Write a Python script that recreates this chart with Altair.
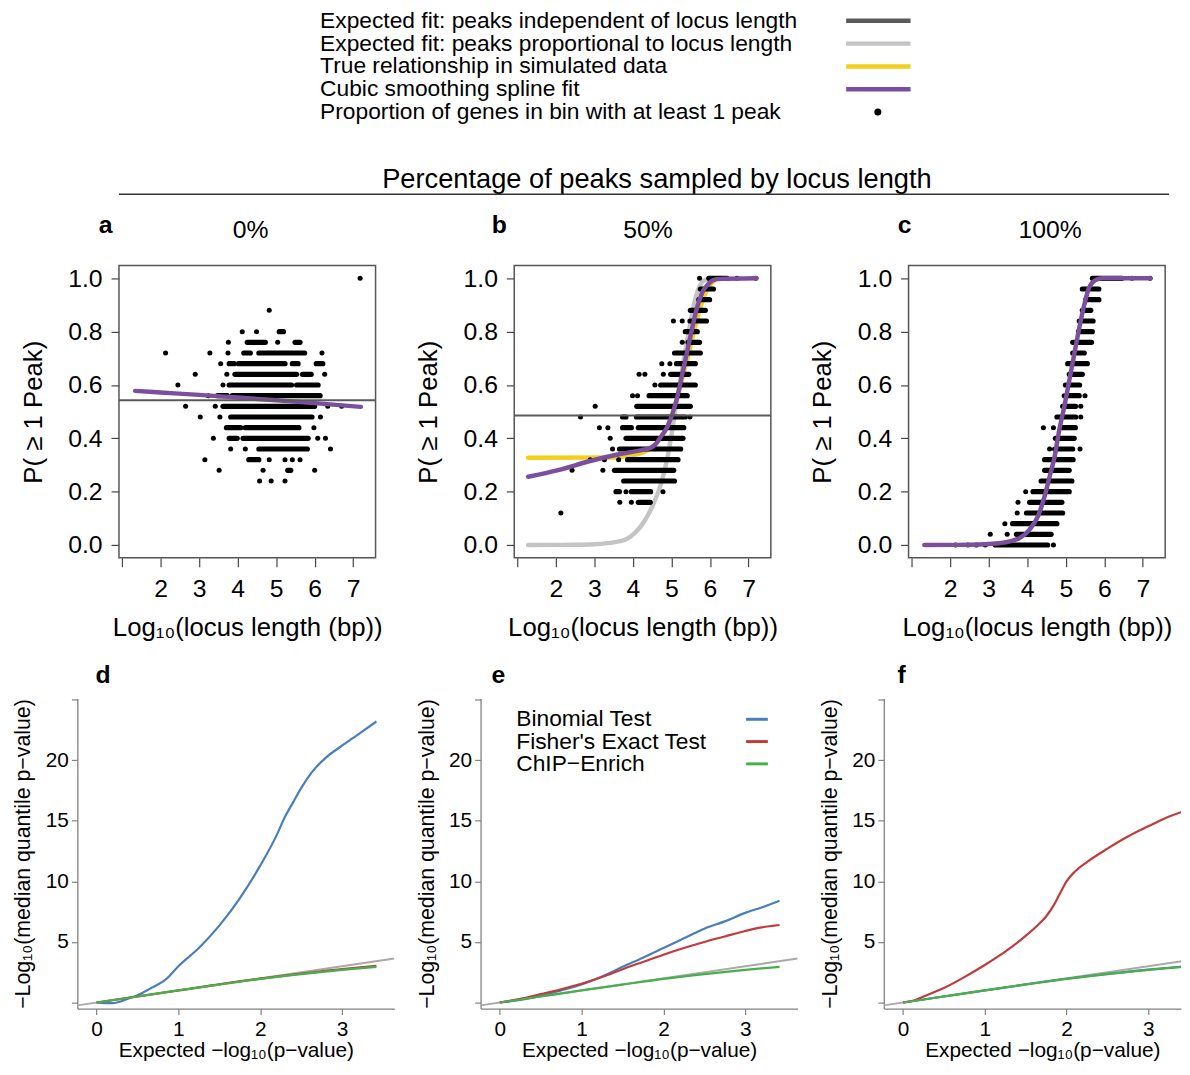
import altair as alt
import pandas as pd

FONT = "Liberation Sans"

# ---------------- legend (top) ----------------
LEGEND_LABELS = [
    "Expected fit: peaks independent of locus length",
    "Expected fit: peaks proportional to locus length",
    "True relationship in simulated data",
    "Cubic smoothing spline fit",
    "Proportion of genes in bin with at least 1 peak",
]
C_DARK = "#5a5a5a"
C_LIGHT = "#c4c4c4"
C_YELLOW = "#f2cf1d"
C_PURPLE = "#7b4f9d"
LEGEND_COLORS = [C_DARK, C_LIGHT, C_YELLOW, C_PURPLE]

# ---------------- panel a/b/c: binned proportions ----------------
# each row: (proportion, [single x | (x_start, x_end) dense run of dots])
A_ROWS = [
    (1.00, [7.18]),
    (0.88, [4.82]),
    (0.80, [4.12, 4.49, (5.08, 5.19)]),
    (0.76, [3.76, (4.25, 4.72), 5.04, (5.49, 5.62)]),
    (0.72, [2.13, 3.28, 3.75, (4.16, 4.33), (4.55, 5.74), 6.19]),
    (0.68, [3.56, (3.78, 3.91), (4.02, 5.23), (5.42, 5.57), (6.04, 6.21)]),
    (0.64, [2.90, 3.72, (3.93, 5.53), (5.68, 5.91), 6.26]),
    (0.60, [2.45, 3.62, (3.78, 5.40), (5.53, 6.09)]),
    (0.56, [3.24, (3.48, 3.73), (3.86, 6.14)]),
    (0.52, [2.65, 3.42, (3.62, 6.00), 6.34, 6.70]),
    (0.48, [3.03, 3.54, (3.82, 5.93), 6.15]),
    (0.44, [(3.71, 4.08), (4.20, 5.59), 5.98]),
    (0.40, [3.37, (3.78, 3.99), (4.14, 5.83), 6.08, 6.28]),
    (0.36, [3.82, 4.20, (4.55, 5.81), 6.41]),
    (0.32, [3.15, (4.29, 4.55), 4.82, 5.23, 5.42, 5.62]),
    (0.28, [3.52, 4.66, (5.30, 5.38), 6.00]),
    (0.24, [4.57, 4.87, 5.23]),
]
B_ROWS = [
    (1.00, [5.73, (5.97, 6.44), 6.70, 7.19]),
    (0.96, [(5.75, 6.09)]),
    (0.92, [(5.71, 5.99)]),
    (0.88, [(5.49, 5.88)]),
    (0.84, [5.05, 5.28, (5.48, 5.91)]),
    (0.80, [(5.36, 5.67)]),
    (0.76, [5.28, (5.43, 5.73)]),
    (0.72, [(5.08, 5.75)]),
    (0.68, [4.75, 4.96, (5.13, 5.62)]),
    (0.64, [4.16, 4.31, 4.79, (4.98, 5.45)]),
    (0.60, [4.57, (4.72, 5.62)]),
    (0.56, [3.99, 4.12, (4.42, 5.41)]),
    (0.52, [3.02, (4.10, 5.49)]),
    (0.48, [2.64, (3.73, 3.82), (4.09, 5.36), 5.48]),
    (0.44, [3.13, 3.35, (3.73, 3.96), (4.14, 5.32)]),
    (0.40, [3.41, (3.82, 5.30)]),
    (0.36, [3.47, (3.65, 5.24)]),
    (0.32, [2.89, 3.26, 3.63, (3.86, 5.17)]),
    (0.28, [2.42, 3.22, (3.52, 5.06)]),
    (0.24, [(3.76, 5.08)]),
    (0.20, [(3.56, 3.65), 3.82, (3.96, 4.46), 4.78]),
    (0.16, [3.66, 3.96, (4.14, 4.45)]),
    (0.12, [2.13]),
]
C_ROWS = [
    (1.00, [(5.69, 6.46), 6.72, 7.19]),
    (0.96, [(5.43, 5.86)]),
    (0.92, [(5.52, 5.86)]),
    (0.88, [(5.43, 5.65)]),
    (0.84, [(5.35, 5.71)]),
    (0.80, [(5.33, 5.69)]),
    (0.76, [(5.18, 5.67)]),
    (0.72, [(5.18, 5.48)]),
    (0.68, [(5.05, 5.56)]),
    (0.64, [(5.09, 5.43)]),
    (0.60, [(4.99, 5.36)]),
    (0.56, [4.96, (5.05, 5.35), 5.50]),
    (0.52, [(4.92, 5.26), 5.39]),
    (0.48, [(4.77, 5.26), 5.39]),
    (0.44, [4.42, 4.68, (4.90, 5.25)]),
    (0.40, [(4.73, 5.22)]),
    (0.36, [4.58, (4.71, 5.18), 5.37]),
    (0.32, [(4.45, 5.19)]),
    (0.28, [(4.45, 5.09)]),
    (0.24, [(4.36, 5.16)]),
    (0.20, [3.96, (4.15, 5.09)]),
    (0.16, [3.76, (4.06, 4.90)]),
    (0.12, [3.74, (3.98, 4.92)]),
    (0.08, [3.42, (3.62, 4.77)]),
    (0.04, [3.04, 3.48, (3.72, 4.62)]),
    (0.00, [2.14, 2.46, 2.68, 2.91, (3.17, 4.53), 4.68]),
]

# fitted / expected curves
A_PURPLE_X = [1.34, 2.0, 3.0, 4.0, 5.0, 6.0, 7.2]
A_PURPLE_Y = [0.578, 0.572, 0.563, 0.553, 0.543, 0.532, 0.518]
A_HLINE = 0.543

B_PURPLE_X = [1.28, 2.06, 2.92, 3.77, 4.2, 4.46, 4.6, 4.72, 4.89, 5.02, 5.15, 5.28,
              5.41, 5.54, 5.66, 5.79, 5.97, 6.18, 7.21]
B_PURPLE_Y = [0.256, 0.281, 0.316, 0.344, 0.355, 0.365, 0.38, 0.405, 0.442, 0.49, 0.554,
              0.64, 0.727, 0.814, 0.888, 0.944, 0.981, 0.997, 1.0]
B_GREY_X = [1.28, 2.5, 3.0, 3.5, 3.8, 4.05, 4.3, 4.55, 4.75, 4.9, 5.03, 5.15, 5.3, 5.45,
            5.58, 5.71, 5.88, 6.1]
B_GREY_Y = [0.0, 0.001, 0.003, 0.01, 0.02, 0.045, 0.09, 0.16, 0.24, 0.33, 0.44, 0.55,
            0.68, 0.80, 0.90, 0.963, 0.994, 1.0]
B_YELLOW_X = [1.28, 3.5, 3.9, 4.3, 4.6, 4.8, 5.0, 5.15, 5.3, 5.45, 5.6, 5.75, 5.9, 6.05, 6.25]
B_YELLOW_Y = [0.327, 0.328, 0.335, 0.35, 0.38, 0.42, 0.48, 0.55, 0.635, 0.72, 0.81, 0.89,
              0.95, 0.985, 1.0]
B_HLINE = 0.486

C_PURPLE_X = [1.33, 2.5, 3.0, 3.38, 3.81, 4.06, 4.28, 4.45, 4.58, 4.71, 4.83, 4.96, 5.09,
              5.22, 5.35, 5.48, 5.6, 5.78, 5.95, 7.19]
C_PURPLE_Y = [0.0, 0.001, 0.004, 0.009, 0.027, 0.058, 0.108, 0.182, 0.256, 0.331, 0.43,
              0.517, 0.616, 0.715, 0.814, 0.90, 0.963, 0.994, 1.0, 1.0]

# ---------------- panel d/e/f: QQ curves ----------------
QQ_LABELS = ["Binomial Test", "Fisher's Exact Test", "ChIP\u2212Enrich"]
C_BLUE = "#4a7ebb"
C_RED = "#c23b3b"
C_GREEN = "#47b04b"
C_DIAG = "#a9a9a9"
QQ_COLORS = [C_BLUE, C_RED, C_GREEN]

DIAG_X = [-0.235, 3.64]
GREEN_X = [0, 0.25, 0.5, 1.0, 1.5, 2.0, 2.5, 3.0, 3.42]
GREEN_Y = [0, 0.25, 0.5, 1.0, 1.48, 1.95, 2.35, 2.7, 2.95]

D_BLUE_X = [0, 0.1, 0.2, 0.3, 0.4, 0.5, 0.65, 0.85, 1.0, 1.25, 1.5, 1.74, 2.0, 2.2, 2.3,
            2.4, 2.5, 2.63, 2.8, 3.0, 3.19, 3.42]
D_BLUE_Y = [0, -0.05, -0.05, 0.1, 0.35, 0.6, 1.13, 1.93, 3.0, 4.5, 6.35, 8.5, 11.3, 13.8,
            15.3, 16.5, 17.7, 19.0, 20.2, 21.2, 22.1, 23.2]
D_RED_X = [0, 1.0, 2.0, 2.5, 3.0, 3.42]
D_RED_Y = [0, 1.0, 1.97, 2.38, 2.76, 3.02]

E_X = [0, 0.25, 0.5, 0.75, 1.0, 1.25, 1.5, 1.75, 2.0, 2.25, 2.5, 2.75, 3.0, 3.2, 3.42]
E_BLUE_Y = [0, 0.22, 0.55, 1.0, 1.5, 2.15, 2.95, 3.7, 4.5, 5.3, 6.1, 6.7, 7.4, 7.85, 8.4]
E_RED_Y = [0, 0.3, 0.7, 1.1, 1.55, 2.1, 2.75, 3.35, 3.95, 4.5, 5.0, 5.45, 5.9, 6.2, 6.4]

F_RED_X = [0, 0.1, 0.25, 0.5, 0.75, 1.0, 1.25, 1.5, 1.65, 1.75, 1.85, 1.95, 2.0, 2.1,
           2.25, 2.5, 2.75, 3.0, 3.2, 3.42]
F_RED_Y = [0, 0.1, 0.5, 1.2, 2.1, 3.1, 4.2, 5.5, 6.4, 7.1, 8.1, 9.4, 10.0, 10.8, 11.6,
           12.7, 13.7, 14.55, 15.2, 15.75]
F_BLUE_X = [0, 1.0, 2.0, 2.5, 3.0, 3.42]
F_BLUE_Y = [0, 1.0, 1.96, 2.36, 2.72, 2.97]

# ---------------- helpers ----------------
ONE = pd.DataFrame({"k": [0]})


def split_rows(rows):
    pts, runs = [], []
    for yv, items in rows:
        for it in items:
            if isinstance(it, tuple):
                runs.append({"x": it[0], "x2": it[1], "y": yv})
            else:
                pts.append({"x": it, "y": yv})
    return pd.DataFrame(pts), pd.DataFrame(runs)


def xy(xs, ys):
    return pd.DataFrame({"x": xs, "y": ys})


def label(text, x, y, size, weight="normal", align="left", baseline="middle"):
    return alt.Chart(ONE).mark_text(
        text=text, fontSize=size, fontWeight=weight, align=align,
        baseline=baseline, color="black", font=FONT
    ).encode(x=alt.value(x), y=alt.value(y))


def seg(x1, x2, y, color, width):
    return alt.Chart(ONE).mark_rule(color=color, strokeWidth=width).encode(
        x=alt.value(x1), x2=alt.value(x2), y=alt.value(y))


# ---------------- layout (grid of 3 columns, cells share column widths) ----------------
COL_W = [320, 320, 300]   # cell widths (bottom panels fill their cell)
COL_GAP = 87
ROW_GAP = 142
TOP_H = 295
BOT_H = 313
BOX_W = 259               # width of the boxed top panels
BOX_OFF = [42, 34, 25]    # offset of each top box inside its cell

# ---------------- top panels ----------------
XLIM_T = [0.92, 7.58]
YS_T = alt.Scale(domain=[-0.048, 1.048], nice=False, zero=False)


def top_panel(col, rows, purple, letter, letter_dx, pct, pct_dx, hline=None, grey=None,
              yellow=None, extras=()):
    off = BOX_OFF[col]
    cell_w = COL_W[col]
    ppu = BOX_W / (XLIM_T[1] - XLIM_T[0])
    xs = alt.Scale(domain=[XLIM_T[0] - off / ppu,
                           XLIM_T[1] + (cell_w - off - BOX_W) / ppu],
                   nice=False, zero=False)
    xax = alt.Axis(values=[1, 2, 3, 4, 5, 6, 7],
                   labelExpr="datum.value == 1 ? '' : datum.label",
                   domain=False, grid=False, tickSize=9, tickColor="#444444", tickWidth=1.2,
                   labelFontSize=25, labelPadding=10, labelColor="black", labelFlush=False,
                   labelOverlap=False,
                   title="Log\u2081\u2080(locus length (bp))", titleFontSize=26,
                   titleFontWeight="normal", titleColor="black", titleX=off + BOX_W / 2,
                   titleY=78, titleAlign="center", titleBaseline="alphabetic")
    yax = alt.Axis(values=[0, 0.2, 0.4, 0.6, 0.8, 1.0], format=".1f", offset=-off,
                   domain=False, grid=False, tickSize=8, tickColor="#444444", tickWidth=1.2,
                   labelFontSize=25, labelPadding=9, labelColor="black", labelFlush=False,
                   labelOverlap=False,
                   title="P( \u2265 1 Peak)", titleFontSize=26, titleFontWeight="normal",
                   titleColor="black", titleX=-86.5, titleY=TOP_H / 2, titleAngle=270,
                   titleAlign="center", titleBaseline="middle")

    def X(f):
        return alt.X(f, type="quantitative", scale=xs, axis=xax)

    def Y(f):
        return alt.Y(f, type="quantitative", scale=YS_T, axis=yax)

    def curve(df, color):
        return alt.Chart(df).mark_line(color=color, strokeWidth=4.5, interpolate="monotone",
                                       strokeCap="round").encode(x=X("x"), y=Y("y"))

    pts, runs = split_rows(rows)
    layers = [alt.Chart(ONE).mark_rect(fillOpacity=0, stroke="#555555", strokeWidth=1.5)
              .encode(x=alt.value(off), x2=alt.value(off + BOX_W),
                      y=alt.value(0), y2=alt.value(TOP_H))]
    if grey is not None:
        layers.append(curve(grey, C_LIGHT))
    if yellow is not None:
        layers.append(curve(yellow, C_YELLOW))
    layers.append(alt.Chart(runs).mark_rule(color="black", strokeWidth=5.2, strokeCap="round")
                  .encode(x=X("x"), x2=alt.X2("x2"), y=Y("y")))
    layers.append(alt.Chart(pts).mark_circle(color="black", size=26, opacity=1)
                  .encode(x=X("x"), y=Y("y")))
    layers.append(curve(purple, C_PURPLE))
    if hline is not None:
        hl = pd.DataFrame({"x": [XLIM_T[0]], "x2": [XLIM_T[1]], "y": [hline]})
        layers.append(alt.Chart(hl).mark_rule(color=C_DARK, strokeWidth=2)
                      .encode(x=X("x"), x2=alt.X2("x2"), y=Y("y")))
    layers.append(label(letter, off + letter_dx, -33, 25, weight="bold", align="center",
                        baseline="alphabetic"))
    layers.append(label(pct, off + pct_dx, -28, 25, align="center", baseline="alphabetic"))
    layers.extend(extras(off) if callable(extras) else extras)
    return alt.layer(*layers).properties(width=cell_w, height=TOP_H)


def legend_layers(off):
    out = []
    for i, txt in enumerate(LEGEND_LABELS):
        yrow = -247 + 23 * i
        out.append(label(txt, off - 196, yrow, 23))
        if i < len(LEGEND_COLORS):
            out.append(seg(off + 335, off + 400, yrow, LEGEND_COLORS[i], 4.5))
    out.append(alt.Chart(ONE).mark_circle(color="black", size=50, opacity=1)
               .encode(x=alt.value(off + 367), y=alt.value(-155)))
    out.append(label("Percentage of peaks sampled by locus length", off + 144, -78, 27.5,
                     align="center", baseline="alphabetic"))
    out.append(seg(off - 399, off + 661, -72, "#333333", 1.5))
    return out


pa = top_panel(0, A_ROWS, xy(A_PURPLE_X, A_PURPLE_Y), "a", -13.5, "0%", 133, hline=A_HLINE)
pb = top_panel(1, B_ROWS, xy(B_PURPLE_X, B_PURPLE_Y), "b", -15, "50%", 135, hline=B_HLINE,
               grey=xy(B_GREY_X, B_GREY_Y), yellow=xy(B_YELLOW_X, B_YELLOW_Y),
               extras=legend_layers)
pc = top_panel(2, C_ROWS, xy(C_PURPLE_X, C_PURPLE_Y), "c", -4, "100%", 143)

# ---------------- bottom panels ----------------
YS_B = alt.Scale(domain=[-0.5, 25.1], nice=False, zero=False)


def bottom_panel(col, xmax, series, letter, letter_dx, extras=()):
    width = COL_W[col]
    xs = alt.Scale(domain=[-0.235, xmax], nice=False, zero=False)
    xax = alt.Axis(values=[0, 1, 2, 3], domain=True, domainColor="#808080", domainWidth=1.3,
                   grid=False, tickSize=6, tickColor="#808080", tickWidth=1.2,
                   labelFontSize=21, labelPadding=4, labelColor="black", labelFlush=False,
                   title="Expected \u2212log\u2081\u2080(p\u2212value)", titleFontSize=21,
                   titleFontWeight="normal", titleColor="black", titleX=160, titleY=48,
                   titleAlign="center", titleBaseline="alphabetic")
    yax = alt.Axis(values=[0, 5, 10, 15, 20, 25],
                   labelExpr="(datum.value == 0 || datum.value == 25) ? '' : datum.label",
                   domain=True, domainColor="#808080", domainWidth=1.3, grid=False,
                   tickSize=6, tickColor="#808080", tickWidth=1.2, labelFontSize=21,
                   labelPadding=3, labelColor="black", labelFlush=False, labelOverlap=False,
                   title="\u2212Log\u2081\u2080(median quantile p\u2212value)",
                   titleFontSize=21.5, titleFontWeight="normal", titleColor="black",
                   titleX=-54, titleY=BOT_H / 2, titleAngle=270, titleAlign="center",
                   titleBaseline="middle")
    layers = [alt.Chart(xy(DIAG_X, DIAG_X)).mark_line(color=C_DIAG, strokeWidth=2, clip=True)
              .encode(x=alt.X("x:Q", scale=xs, axis=xax), y=alt.Y("y:Q", scale=YS_B, axis=yax))]
    for df, color in series:
        layers.append(alt.Chart(df).mark_line(color=color, strokeWidth=2.2, clip=True,
                                              interpolate="monotone")
                      .encode(x=alt.X("x:Q", scale=xs, axis=xax),
                              y=alt.Y("y:Q", scale=YS_B, axis=yax)))
    layers.append(label(letter, letter_dx, -16, 25, weight="bold", align="center",
                        baseline="alphabetic"))
    layers.extend(extras)
    return alt.layer(*layers).properties(width=width, height=BOT_H)


qq_legend = []
for i, (txt, col) in enumerate(zip(QQ_LABELS, QQ_COLORS)):
    yrow = 21 + 22.5 * i
    qq_legend.append(label(txt, 36, yrow, 23))
    qq_legend.append(seg(268, 290, yrow, col, 3))

green = xy(GREEN_X, GREEN_Y)
pd_ = bottom_panel(0, 3.64, [(xy(D_BLUE_X, D_BLUE_Y), C_BLUE), (xy(D_RED_X, D_RED_Y), C_RED),
                             (green, C_GREEN)], "d", 26)
pe = bottom_panel(1, 3.64, [(xy(E_X, E_BLUE_Y), C_BLUE), (xy(E_X, E_RED_Y), C_RED),
                            (green, C_GREEN)], "e", 18, extras=qq_legend)
pf = bottom_panel(2, 3.40, [(xy(F_BLUE_X, F_BLUE_Y), C_BLUE), (xy(F_RED_X, F_RED_Y), C_RED),
                            (green, C_GREEN)], "f", 18)

chart = (
    alt.concat(pa, pb, pc, pd_, pe, pf, columns=3, bounds="flush",
               spacing=alt.RowColnumber(row=ROW_GAP, column=COL_GAP))
    .properties(padding={"left": 4, "top": -4, "right": 0, "bottom": 0}, background="white")
    .configure(font=FONT)
    .configure_view(stroke="transparent")
)

chart.save("out.html", embed_options={"renderer": "svg", "actions": False})
